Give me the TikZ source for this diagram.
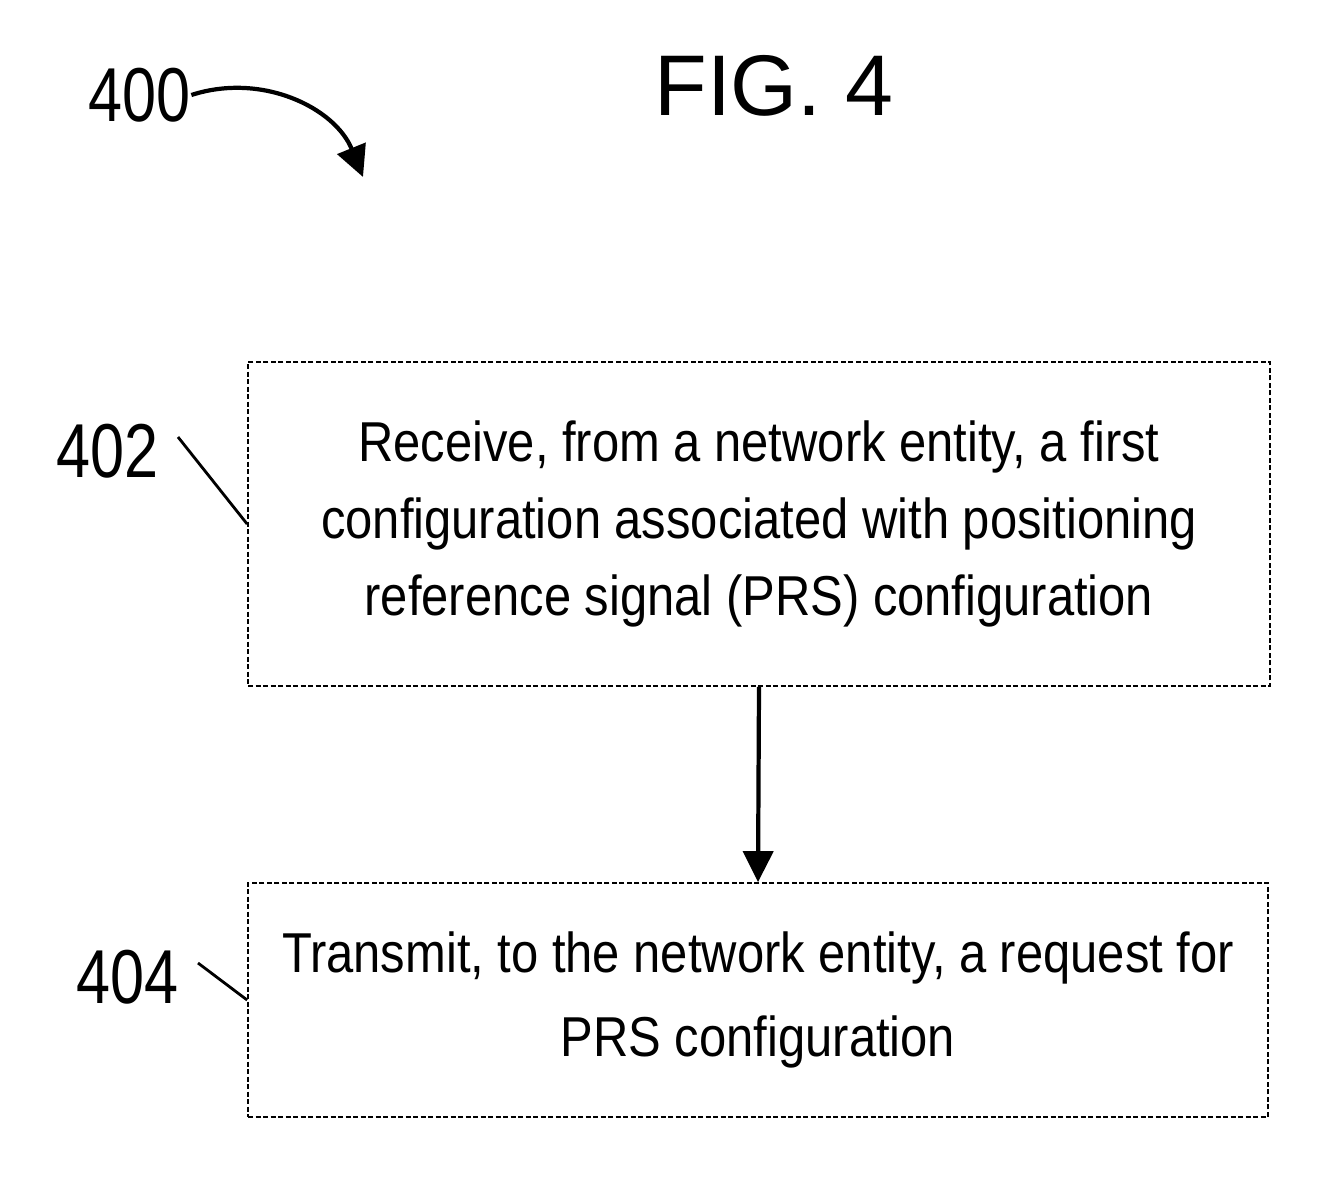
\documentclass[tikz,border=0pt]{standalone}
\usepackage{fontspec}
\setmainfont{Liberation Sans}
\newfontfamily\stepfont[FakeStretch=0.87]{Liberation Sans}
\newfontfamily\reffont[FakeStretch=0.8]{Liberation Sans}
\usetikzlibrary{arrows.meta}

\begin{document}
\begin{tikzpicture}[>={Triangle[length=0.62cm, width=0.6cm]},
  stepbox/.style={draw, line width=1pt, dash pattern=on 0.1cm off 0.05cm, align=center, inner sep=0pt, font=\stepfont\fontsize{32}{44}\selectfont},
  reflabel/.style={inner sep=0pt, font=\reffont\fontsize{43.5}{50}\selectfont},
  leader/.style={line width=1.6pt}]
  \useasboundingbox (0,0) rectangle (26.7,-23.66);
  \node[inner sep=0pt, font=\fontsize{49}{56}\selectfont] (fig4) at (15.48,-1.72) {FIG. 4};
  \node[reflabel] (lbl400) at (2.8,-1.9) {400};
  \coordinate (tip400) at (7.26,-3.54);
  \draw[->, line width=2.4pt] (lbl400.east) to[out=18, in=112] (tip400);
  \node[stepbox, minimum width=20.44cm, minimum height=6.48cm] (stepReceive) at (15.18,-10.48) {Receive, from a network entity, a first\\configuration associated with positioning\\reference signal (PRS) configuration};
  \node[stepbox, minimum width=20.4cm, minimum height=4.68cm, font=\stepfont\fontsize{32}{48}\selectfont] (stepTransmit) at (15.16,-20.0) {Transmit, to the network entity, a request for\\PRS configuration};
  \draw[->, line width=2.4pt] (stepReceive.south) -- (stepTransmit.north);
  \node[reflabel] (lbl402) at (2.16,-9.02) {402};
  \coordinate (lead402) at (3.56,-8.74);
  \draw[leader] (lead402) -- (stepReceive.west);
  \node[reflabel] (lbl404) at (2.56,-19.54) {404};
  \coordinate (lead404) at (3.96,-19.26);
  \draw[leader] (lead404) -- (stepTransmit.west);
\end{tikzpicture}
\end{document}
